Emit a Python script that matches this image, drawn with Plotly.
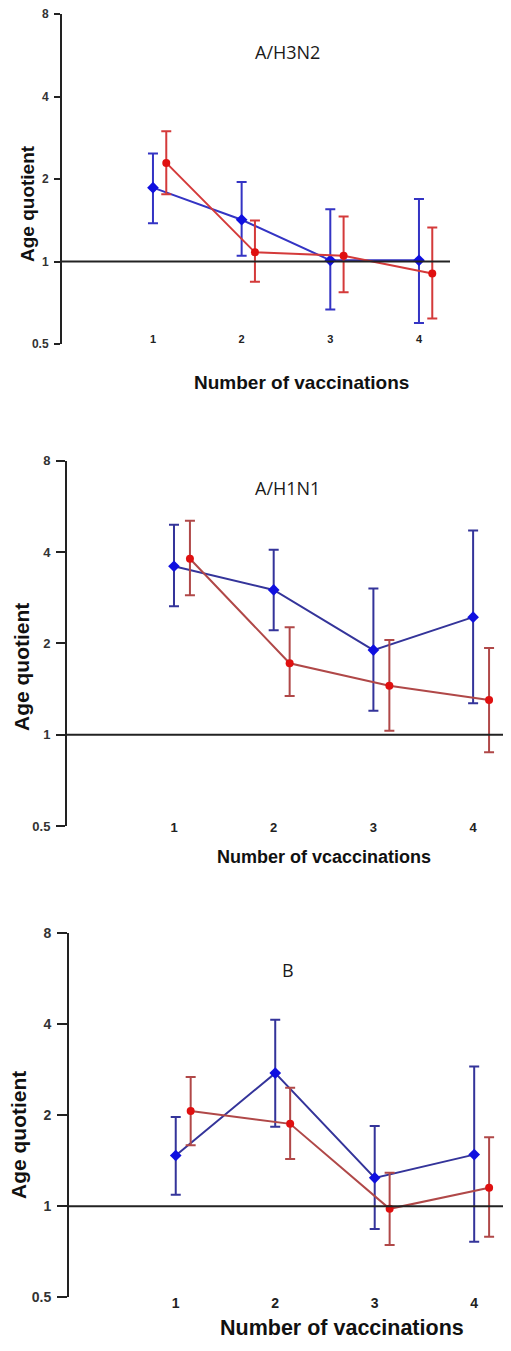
import plotly.graph_objects as go

W, H = 511, 1351
PAGE_OFFSET = 8  # default body margin of the html page

# ---------------- data ----------------
doses = [1, 2, 3, 4]
x_tick_labels = ["1", "2", "3", "4"]
y_ticks = [0.5, 1, 2, 4, 8]
y_tick_labels = ["0.5", "1", "2", "4", "8"]
reference_level = 1

panel_titles = ["A/H3N2", "A/H1N1", "B"]
x_titles = ["Number of vaccinations", "Number of vcaccinations", "Number of vaccinations"]
y_title = "Age quotient"

h3_blue = [1.86, 1.42, 1.01, 1.01]
h3_blue_hi = [2.48, 1.95, 1.55, 1.69]
h3_blue_lo = [1.38, 1.05, 0.668, 0.597]
h3_red = [2.29, 1.08, 1.05, 0.904]
h3_red_hi = [2.99, 1.41, 1.46, 1.33]
h3_red_lo = [1.76, 0.843, 0.773, 0.62]

h1_blue = [3.59, 3.00, 1.90, 2.44]
h1_blue_hi = [4.92, 4.07, 3.03, 4.71]
h1_blue_lo = [2.65, 2.21, 1.20, 1.27]
h1_red = [3.80, 1.72, 1.45, 1.30]
h1_red_hi = [5.07, 2.26, 2.05, 1.93]
h1_red_lo = [2.88, 1.34, 1.03, 0.875]

b_blue = [1.47, 2.75, 1.24, 1.48]
b_blue_hi = [1.97, 4.13, 1.84, 2.89]
b_blue_lo = [1.09, 1.83, 0.84, 0.763]
b_red = [2.06, 1.87, 0.98, 1.15]
b_red_hi = [2.67, 2.46, 1.29, 1.69]
b_red_lo = [1.59, 1.43, 0.744, 0.792]

# ---------------- layout helpers ----------------
def px_x(p):
    return (p - PAGE_OFFSET) / W

def px_y(p):
    return 1 - (p - PAGE_OFFSET) / H

FONT_B = "Liberation Sans"
FONT_T = "Open Sans"

panels = [
    dict(blue=(h3_blue, h3_blue_hi, h3_blue_lo), red=(h3_red, h3_red_hi, h3_red_lo),
         xdom=(62, 450), ydom=(14, 344), xr=(-0.026, 4.35), off=0.15,
         blue_line="#3434c4", red_line="#d43a3a", blue_mk="#1010e0", red_mk="#e01010",
         ytick_size=12, xtick_size=11, ticklen=6, xstand=-13,
         title_pos=(287, 52), xt_pos=(301, 383), xt_size=19, yt_pos=(28, 204), yt_size=19),
    dict(blue=(h1_blue, h1_blue_hi, h1_blue_lo), red=(h1_red, h1_red_hi, h1_red_lo),
         xdom=(67, 511), ydom=(460.7, 826), xr=(-0.073, 4.38), off=0.16,
         blue_line="#34349a", red_line="#b04848", blue_mk="#1010e0", red_mk="#e01010",
         ytick_size=13, xtick_size=13, ticklen=9, xstand=-8,
         title_pos=(287, 488), xt_pos=(324, 857), xt_size=18, yt_pos=(22, 667), yt_size=21),
    dict(blue=(b_blue, b_blue_hi, b_blue_lo), red=(b_red, b_red_hi, b_red_lo),
         xdom=(69, 511), ydom=(932.7, 1297.3), xr=(-0.073, 4.37), off=0.15,
         blue_line="#34349a", red_line="#b04848", blue_mk="#1010e0", red_mk="#e01010",
         ytick_size=14, xtick_size=14, ticklen=10, xstand=-4,
         title_pos=(288, 970), xt_pos=(342, 1328), xt_size=21.5, yt_pos=(18, 1135), yt_size=21),
]

fig = go.Figure()
layout = dict(width=W, height=H, margin=dict(l=0, r=0, t=0, b=0, autoexpand=False),
              paper_bgcolor="white", plot_bgcolor="white", showlegend=False,
              annotations=[], shapes=[])

for i, p in enumerate(panels):
    n = i + 1
    xa = "x" if n == 1 else f"x{n}"
    ya = "y" if n == 1 else f"y{n}"
    xkey = "xaxis" if n == 1 else f"xaxis{n}"
    ykey = "yaxis" if n == 1 else f"yaxis{n}"

    for series, line_c, mk_c, shift, sym, msize in (
        (p["blue"], p["blue_line"], p["blue_mk"], 0.0, "diamond", 9),
        (p["red"], p["red_line"], p["red_mk"], p["off"], "circle", 8),
    ):
        vals, hi, lo = series
        fig.add_trace(go.Scatter(
            x=[d + shift for d in doses], y=vals, xaxis=xa, yaxis=ya,
            mode="lines+markers",
            line=dict(color=line_c, width=2),
            marker=dict(color=mk_c, size=msize, symbol=sym),
            error_y=dict(type="data", symmetric=False,
                         array=[h - v for h, v in zip(hi, vals)],
                         arrayminus=[v - l for v, l in zip(vals, lo)],
                         color=line_c, thickness=2, width=5),
        ))

    xd = (px_x(p["xdom"][0]), px_x(p["xdom"][1]))
    yd = (px_y(p["ydom"][1]), px_y(p["ydom"][0]))

    layout[xkey] = dict(domain=list(xd), range=list(p["xr"]), anchor=ya, automargin=False,
                        showline=False, showgrid=False, zeroline=False, ticks="",
                        tickvals=doses, ticktext=x_tick_labels, ticklabeloverflow="allow",
                        tickfont=dict(family=FONT_B, size=p["xtick_size"], color="#222", weight="bold"),
                        ticklabelstandoff=p["xstand"])
    layout[ykey] = dict(domain=list(yd), type="log", range=[-0.30103, 0.90309], anchor=xa,
                        automargin=False, ticklabeloverflow="allow",
                        showline=True, linecolor="#222", linewidth=2, mirror=False,
                        showgrid=False, zeroline=False, ticks="outside",
                        ticklen=p["ticklen"], tickwidth=2, tickcolor="#222",
                        tickvals=y_ticks, ticktext=y_tick_labels,
                        tickfont=dict(family=FONT_B, size=p["ytick_size"], color="#333", weight="bold"),
                        ticklabelstandoff=3)

    # reference line at quotient = 1 with small ticks below it
    layout["shapes"].append(dict(type="line", xref=f"{xa} domain", yref=ya,
                                 x0=0, x1=1, y0=reference_level, y1=reference_level,
                                 line=dict(color="#222", width=2), layer="above"))
    for d in doses:
        layout["shapes"].append(dict(type="line", xref=xa, yref=ya, ysizemode="pixel",
                                     yanchor=reference_level, x0=d, x1=d, y0=0, y1=-5,
                                     line=dict(color="#222", width=2), layer="above"))

    layout["annotations"] += [
        dict(text=panel_titles[i], xref="paper", yref="paper",
             x=px_x(p["title_pos"][0]), y=px_y(p["title_pos"][1]),
             xanchor="center", yanchor="middle", showarrow=False,
             font=dict(family=FONT_T, size=18, color="#1a1a1a")),
        dict(text=x_titles[i], xref="paper", yref="paper",
             x=px_x(p["xt_pos"][0]), y=px_y(p["xt_pos"][1]),
             xanchor="center", yanchor="middle", showarrow=False,
             font=dict(family=FONT_B, size=p["xt_size"], color="#111", weight="bold")),
        dict(text=y_title, xref="paper", yref="paper", textangle=-90,
             x=px_x(p["yt_pos"][0]), y=px_y(p["yt_pos"][1]),
             xanchor="center", yanchor="middle", showarrow=False,
             font=dict(family=FONT_B, size=p["yt_size"], color="#111", weight="bold")),
    ]

fig.update_layout(**layout)
fig.write_html("out.html")
